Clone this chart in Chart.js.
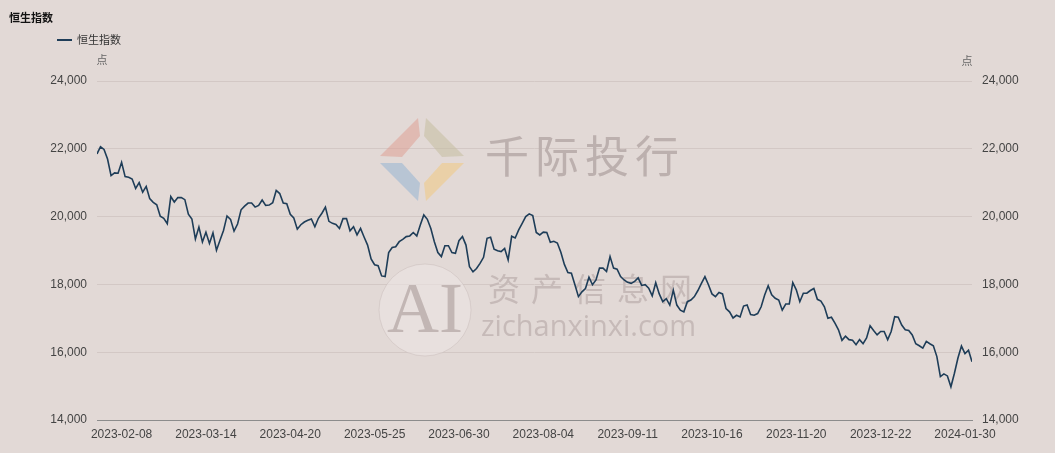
<!DOCTYPE html>
<html>
<head>
<meta charset="utf-8">
<script src="https://cdn.jsdelivr.net/npm/chart.js@4.4.1/dist/chart.umd.min.js"></script>
<style>
  html, body { margin: 0; padding: 0; background: #e2d9d6; }
  #wrap { width: 1055px; height: 453px; }
</style>
</head>
<body>
<div id="wrap"><canvas id="hsi" width="1055" height="453"></canvas></div>
<script>
// 恒生指数 daily close
const hsiValues = [
  21850, 22060, 21980, 21700, 21210, 21290, 21280, 21600, 21180, 21160,
  21110, 20830, 21000, 20720, 20890, 20530, 20420, 20350, 20010, 19950,
  19790, 20590, 20430, 20560, 20560, 20500, 20070, 19930, 19340, 19690,
  19250, 19540, 19210, 19520, 19010, 19300, 19590, 20020, 19920, 19570,
  19780, 20200, 20310, 20400, 20400, 20280, 20330, 20490, 20330, 20340,
  20410, 20770, 20680, 20400, 20380, 20070, 19960, 19630, 19760, 19840,
  19890, 19930, 19700, 19950, 20100, 20280, 19860, 19800, 19770, 19650,
  19940, 19940, 19580, 19700, 19460, 19650, 19400, 19160, 18750, 18580,
  18550, 18250, 18230, 18940, 19090, 19110, 19260, 19330, 19410, 19430,
  19530, 19430, 19750, 20050, 19920, 19650, 19260, 18940, 18820, 19140,
  19140, 18940, 18920, 19290, 19410, 19160, 18520, 18370, 18470, 18620,
  18800, 19360, 19390, 19040, 18990, 18970, 19060, 18720, 19420, 19370,
  19610, 19800, 20000, 20080, 20030, 19530, 19460, 19540, 19530, 19240,
  19270, 19220, 18950, 18590, 18350, 18330, 17990, 17640, 17780, 17880,
  18210, 17990, 18130, 18480, 18480, 18380, 18820, 18480, 18450, 18230,
  18130, 18060, 18030, 18090, 18190, 17970, 17990, 17890, 17660, 18050,
  17720, 17490, 17580, 17390, 17830, 17390, 17240, 17190, 17490, 17540,
  17640, 17820, 18030, 18230, 17990, 17720, 17640, 17760, 17720, 17290,
  17190, 17010, 17090, 17040, 17360, 17390, 17110, 17090, 17140, 17340,
  17690, 17960, 17690, 17590, 17540, 17240, 17420, 17420, 18050, 17840,
  17490, 17740, 17740, 17820, 17880, 17560, 17510, 17340, 17000, 17030,
  16860, 16660, 16350, 16470, 16370, 16350, 16220, 16370, 16250, 16420,
  16780, 16640, 16510, 16610, 16610, 16370, 16610, 17050, 17030, 16800,
  16660, 16640, 16510, 16250, 16190, 16120, 16320, 16250, 16190, 15870,
  15280, 15360, 15300, 14980, 15380, 15830, 16180, 15960, 16060, 15720
];

// date labels shown on the x axis and the trading-day index each one sits on
const dateLabels = [
  '2023-02-08', '2023-03-14', '2023-04-20', '2023-05-25', '2023-06-30',
  '2023-08-04', '2023-09-11', '2023-10-16', '2023-11-20', '2023-12-22', '2024-01-30'
];
const dateLabelIdx = [7, 31, 55, 79, 103, 127, 151, 175, 199, 223, 247];

const yTicks = [14000, 16000, 18000, 20000, 22000, 24000];

const seriesName = '恒生指数';
const unitLabel = '点';
const lineColor = '#1e3d58';
const bgColor = '#e2d9d6';

const cjkFont = '"Noto Sans CJK SC", "Noto Sans", sans-serif';
const numFont = '"Liberation Sans", Arial, sans-serif';

function poly(ctx, pts, color) {
    ctx.fillStyle = color;
    ctx.beginPath();
    ctx.moveTo(pts[0][0], pts[0][1]);
    for (let i = 1; i < pts.length; i++) ctx.lineTo(pts[i][0], pts[i][1]);
    ctx.closePath();
    ctx.fill();
}

// background, title, legend, units and the faint watermarks
const decorPlugin = {
    id: 'decor',
    beforeDraw(chart) {
        const ctx = chart.ctx;
        ctx.save();
        ctx.fillStyle = bgColor;
        ctx.fillRect(0, 0, chart.width, chart.height);
        ctx.restore();
    },
    beforeDatasetsDraw(chart) {
        const ctx = chart.ctx;
        ctx.save();
        // diamond logo
        poly(ctx, [[380, 156], [418, 118], [420, 136], [402, 157]], 'rgba(222, 160, 150, 0.55)');
        poly(ctx, [[464, 156], [426, 118], [424, 136], [442, 157]], 'rgba(196, 190, 160, 0.55)');
        poly(ctx, [[380, 163], [418, 201], [420, 183], [402, 163]], 'rgba(150, 180, 212, 0.55)');
        poly(ctx, [[464, 163], [426, 201], [424, 183], [442, 163]], 'rgba(240, 200, 130, 0.55)');
        ctx.textBaseline = 'middle';
        ctx.fillStyle = '#bcb0ae';
        ctx.font = '44px ' + cjkFont;
        const brand = '千际投行';
        for (let i = 0; i < brand.length; i++) {
            ctx.fillText(brand[i], 485 + i * 50, 156);
        }
        // round AI mark
        ctx.fillStyle = 'rgba(236, 229, 226, 0.6)';
        ctx.beginPath();
        ctx.arc(425, 310, 46, 0, Math.PI * 2);
        ctx.fill();
        ctx.strokeStyle = 'rgba(200, 188, 186, 0.5)';
        ctx.lineWidth = 1;
        ctx.stroke();
        ctx.fillStyle = '#c2b6b4';
        ctx.font = '72px "Liberation Serif", serif';
        ctx.textAlign = 'center';
        ctx.fillText('AI', 425, 313);
        ctx.textAlign = 'left';
        ctx.fillStyle = '#c6bab8';
        ctx.font = '32px ' + cjkFont;
        const site = '资产信息网';
        for (let i = 0; i < site.length; i++) {
            ctx.fillText(site[i], 488 + i * 43, 289);
        }
        ctx.font = '29px "Open Sans", sans-serif';
        ctx.fillText('zichanxinxi.com', 481, 328);
        ctx.restore();
    },
    afterDraw(chart) {
        const ctx = chart.ctx;
        ctx.save();
        ctx.textBaseline = 'middle';
        // title
        ctx.fillStyle = '#111';
        ctx.font = 'bold 11px ' + cjkFont;
        ctx.fillText(seriesName, 9, 18);
        // legend
        ctx.strokeStyle = lineColor;
        ctx.lineWidth = 2;
        ctx.beginPath();
        ctx.moveTo(57, 40);
        ctx.lineTo(72, 40);
        ctx.stroke();
        ctx.fillStyle = '#333';
        ctx.font = '11px ' + cjkFont;
        ctx.fillText(seriesName, 77, 40);
        // unit labels over both axes
        ctx.fillStyle = '#666';
        ctx.textAlign = 'center';
        ctx.fillText(unitLabel, 102, 60);
        ctx.fillText(unitLabel, 967, 61);
        ctx.restore();
    }
};

const ctx = document.getElementById('hsi').getContext('2d');
new Chart(ctx, {
    type: 'line',
    data: {
        datasets: [{
            label: seriesName,
            data: hsiValues.map((v, i) => ({ x: i, y: v })),
            borderColor: lineColor,
            borderWidth: 1.6,
            pointRadius: 0,
            tension: 0,
            yAxisID: 'y'
        }]
    },
    options: {
        responsive: false,
        animation: false,
        layout: { padding: { top: 81, left: 0, right: 0, bottom: 0 } },
        plugins: {
            legend: { display: false },
            title: { display: false },
            tooltip: { enabled: false }
        },
        scales: {
            x: {
                type: 'linear',
                min: 0,
                max: hsiValues.length - 1,
                grid: { display: false, drawTicks: false },
                border: { display: true, color: '#8c8c8c', width: 1 },
                afterBuildTicks: (scale) => {
                    scale.ticks = dateLabelIdx.map(v => ({ value: v }));
                },
                afterFit: (scale) => { scale.height = 33; },
                ticks: {
                    autoSkip: false,
                    maxRotation: 0,
                    padding: 7,
                    color: '#444',
                    font: { family: numFont, size: 12 },
                    callback: (v) => dateLabels[dateLabelIdx.indexOf(v)]
                }
            },
            y: {
                position: 'left',
                min: 14000,
                max: 24000,
                afterBuildTicks: (scale) => {
                    scale.ticks = yTicks.map(v => ({ value: v }));
                },
                afterFit: (scale) => { scale.width = 97; },
                grid: { color: '#d3c8c5', drawTicks: false },
                border: { display: false },
                ticks: {
                    padding: 10,
                    color: '#444',
                    font: { family: numFont, size: 12 },
                    callback: (v) => v.toLocaleString('en-US')
                }
            },
            y2: {
                position: 'right',
                min: 14000,
                max: 24000,
                afterBuildTicks: (scale) => {
                    scale.ticks = yTicks.map(v => ({ value: v }));
                },
                afterFit: (scale) => { scale.width = 83; },
                grid: { drawOnChartArea: false, drawTicks: false },
                border: { display: false },
                ticks: {
                    padding: 10,
                    color: '#444',
                    font: { family: numFont, size: 12 },
                    callback: (v) => v.toLocaleString('en-US')
                }
            }
        }
    },
    plugins: [decorPlugin]
});
</script>
</body>
</html>
